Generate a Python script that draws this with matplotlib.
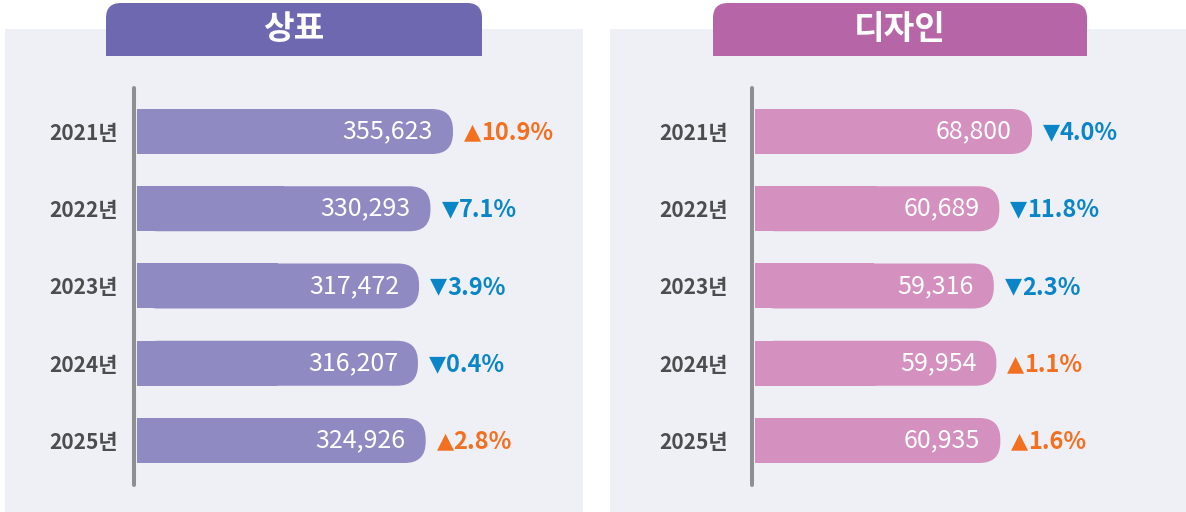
import matplotlib
matplotlib.use("Agg")
import matplotlib.pyplot as plt
from matplotlib.patches import FancyBboxPatch, Rectangle
from matplotlib.transforms import Affine2D

plt.rcParams['font.family'] = ['Noto Sans CJK KR', 'DejaVu Sans']

# ===== data =====
YEARS = ['2021년', '2022년', '2023년', '2024년', '2025년']
TM_VALUES = [355623, 330293, 317472, 316207, 324926]   # 상표
TM_CHANGE = [10.9, -7.1, -3.9, -0.4, 2.8]
DS_VALUES = [68800, 60689, 59316, 59954, 60935]        # 디자인
DS_CHANGE = [-4.0, -11.8, -2.3, 1.1, 1.6]
# ================

W, H = 1186, 512
BG = '#eff0f6'
UP = '#f37021'
DOWN = '#0a86c8'
YEAR_COL = '#4d4d50'
LINE_COL = '#8e8e93'

fig = plt.figure(figsize=(W / 100, H / 100), dpi=100)
fig.patch.set_facecolor('white')
px = Affine2D().scale(1, -1).translate(0, H)  # top-left pixel coords

# plot area rows (pixels)
Y_TOP, Y_BOT = 88, 485
ROW0, ROW_STEP, BAR_H = 131.5, 77.25, 45
R = 21  # bar end radius (px)
PCT_FS = 17


def draw_panel(x0, x1, tab_x0, tab_x1, title, tab_color):
    fig.patches.append(Rectangle((x0, 29), x1 - x0, H - 29, transform=px,
                                 fc=BG, ec='none', zorder=-2))
    fig.patches.append(FancyBboxPatch((tab_x0, 3), tab_x1 - tab_x0, 53,
                                      boxstyle="round,pad=0,rounding_size=15",
                                      transform=px, fc=tab_color, ec='none', zorder=-1))
    fig.patches.append(Rectangle((tab_x0, 30), tab_x1 - tab_x0, 26, transform=px,
                                 fc=tab_color, ec='none', zorder=-1))
    fig.text((tab_x0 + tab_x1) / 2, 30, title, transform=px, ha='center', va='center',
             fontsize=24, fontweight='bold', color='white')


def draw_bars(left, right, values, changes, color, xmax, year_pad):
    ax = fig.add_axes([left / W, 1 - Y_BOT / H, (right - left) / W, (Y_BOT - Y_TOP) / H])
    ax.patch.set_visible(False)
    for s in ax.spines.values():
        s.set_visible(False)
    y_top = (Y_TOP - ROW0) / ROW_STEP
    y_bot = (Y_BOT - ROW0) / ROW_STEP
    ax.set_xlim(0, xmax)
    ax.set_ylim(y_bot, y_top)
    sx = xmax / (right - left)
    sy = (y_bot - y_top) / (Y_BOT - Y_TOP)
    hh = BAR_H * sy

    ax.vlines(-3 * sx, y_top, y_bot, color=LINE_COL, lw=2.9,
              capstyle='round', clip_on=False)

    base = -0.365 * PCT_FS * 100 / 72  # baseline offset so digits sit centred
    for i, (v, c) in enumerate(zip(values, changes)):
        ax.barh(i, v * 0.5, height=hh, color=color, lw=0)
        ax.add_patch(FancyBboxPatch((0, i - hh / 2), v, hh,
                                    boxstyle=f"round,pad=0,rounding_size={R * sx}",
                                    mutation_aspect=sy / sx, fc=color, ec='none'))
        ax.annotate(f"{v:,}", xy=(v, i), xytext=(-20, 0), textcoords='offset pixels',
                    ha='right', va='center', color='white', fontsize=18,
                    fontweight='medium')
        col = UP if c > 0 else DOWN
        ax.annotate('▲' if c > 0 else '▼', xy=(v, i), xytext=(11, base + 2),
                    textcoords='offset pixels', ha='left', va='baseline', color=col,
                    fontsize=16, family='DejaVu Sans', annotation_clip=False)
        ax.annotate(f"{abs(c):.1f}%", xy=(v, i), xytext=(28, base),
                    textcoords='offset pixels', ha='left', va='baseline', color=col,
                    fontsize=PCT_FS, fontweight='bold', annotation_clip=False)

    ax.set_xticks([])
    ax.set_yticks(range(len(YEARS)))
    ax.set_yticklabels(YEARS, fontweight='bold')
    ax.tick_params(axis='y', length=0, pad=year_pad, labelsize=15, labelcolor=YEAR_COL)
    return ax


draw_panel(5, 583, 106, 482, '상표', '#6e68b0')
draw_panel(610, W, 713, 1087, '디자인', '#b665a7')

draw_bars(137, 583, TM_VALUES, TM_CHANGE, '#8f8ac2', 502000, 14)
draw_bars(755, W, DS_VALUES, DS_CHANGE, '#d490be', 107050, 19.5)

fig.savefig('out.png', dpi=100, facecolor='white')
